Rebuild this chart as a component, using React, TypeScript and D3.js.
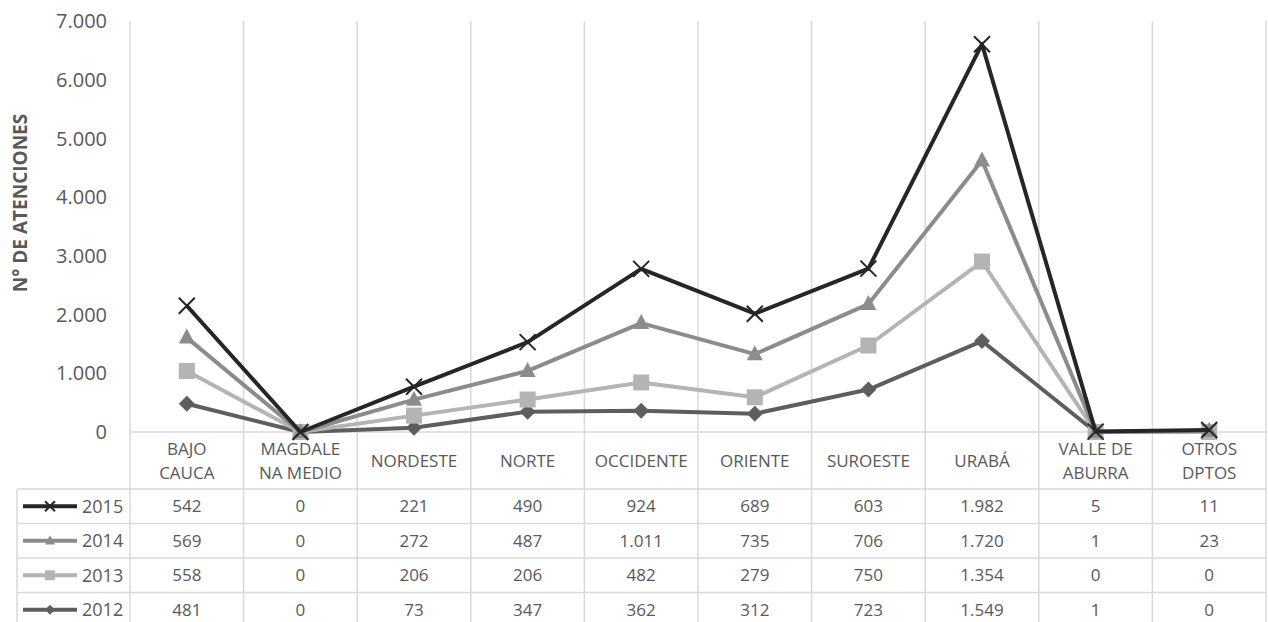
import React from "react";
import * as d3 from "d3";

const categories = [
  "BAJO CAUCA", "MAGDALENA MEDIO", "NORDESTE", "NORTE", "OCCIDENTE",
  "ORIENTE", "SUROESTE", "URABÁ", "VALLE DE ABURRA", "OTROS DPTOS",
];
// how the header cells wrap, as in the source
const categoryLines = [
  ["BAJO", "CAUCA"], ["MAGDALE", "NA MEDIO"], ["NORDESTE"], ["NORTE"], ["OCCIDENTE"],
  ["ORIENTE"], ["SUROESTE"], ["URABÁ"], ["VALLE DE", "ABURRA"], ["OTROS", "DPTOS"],
];
const years = ["2015", "2014", "2013", "2012"];
const v2015 = [542, 0, 221, 490, 924, 689, 603, 1982, 5, 11];
const v2014 = [569, 0, 272, 487, 1011, 735, 706, 1720, 1, 23];
const v2013 = [558, 0, 206, 206, 482, 279, 750, 1354, 0, 0];
const v2012 = [481, 0, 73, 347, 362, 312, 723, 1549, 1, 0];
const yTicks = [0, 1000, 2000, 3000, 4000, 5000, 6000, 7000];

const seriesValues: Record<string, number[]> = { "2015": v2015, "2014": v2014, "2013": v2013, "2012": v2012 };
const colors: Record<string, string> = { "2015": "#262626", "2014": "#8c8c8c", "2013": "#b4b4b4", "2012": "#5e5e5e" };
const markers: Record<string, string> = { "2015": "x", "2014": "triangle", "2013": "square", "2012": "diamond" };

const W = 1268, H = 622;
const left = 130, right = 1266, top = 21, zeroY = 432;
const headerBottom = 489, rowH = 34.5, tableLeft = 17;
const FONT = "'Open Sans', 'DejaVu Sans', sans-serif";
const TEXT = "#595959";
const GRID = "#d9d9d9";

const loc = d3.formatLocale({ decimal: ",", thousands: ".", grouping: [3], currency: ["$", ""] });
const fmt = loc.format(",d");

function Marker({ kind, x, y, color, k = 1 }: { kind: string; x: number; y: number; color: string; k?: number }) {
  if (kind === "x") {
    const s = 8 * k;
    return (
      <path d={`M${x - s},${y - s}L${x + s},${y + s}M${x - s},${y + s}L${x + s},${y - s}`}
        stroke={color} strokeWidth={2} fill="none" />
    );
  }
  if (kind === "triangle") {
    return <path d={`M${x},${y - 9 * k}L${x + 8 * k},${y + 6 * k}L${x - 8 * k},${y + 6 * k}Z`} fill={color} />;
  }
  if (kind === "square") {
    return <rect x={x - 8 * k} y={y - 8 * k} width={16 * k} height={16 * k} fill={color} />;
  }
  return <path d={`M${x},${y - 8 * k}L${x + 8 * k},${y}L${x},${y + 8 * k}L${x - 8 * k},${y}Z`} fill={color} />;
}

export default function App() {
  const x = d3.scaleBand<string>().domain(categories).range([left, right]);
  const y = d3.scaleLinear().domain([0, 7000]).range([zeroY, top]);

  const rows = categories.map((c, i) => {
    const r: Record<string, any> = { cat: c };
    years.forEach((yr) => (r[yr] = seriesValues[yr][i]));
    return r;
  });
  const stacked = d3.stack<any>().keys(["2012", "2013", "2014", "2015"])(rows);
  const line = d3.line<[number, number]>()
    .x((_, i) => (x(categories[i]) as number) + x.bandwidth() / 2)
    .y((d) => y(d[1]));

  const bottomY = headerBottom + rowH * years.length;

  return (
    <svg width={W} height={H} style={{ position: "absolute", left: 0, top: 0, background: "#fff" }}>
      {/* vertical gridlines, running down through the table */}
      {d3.range(categories.length + 1).map((i) => {
        const gx = left + i * x.bandwidth();
        return <line key={i} x1={gx} x2={gx} y1={top} y2={bottomY} stroke={GRID} strokeWidth={1.5} />;
      })}
      {/* table horizontal lines */}
      <line x1={left} x2={right} y1={zeroY} y2={zeroY} stroke={GRID} strokeWidth={1.5} />
      {d3.range(years.length + 1).map((i) => (
        <line key={i} x1={tableLeft} x2={right} y1={headerBottom + i * rowH} y2={headerBottom + i * rowH}
          stroke={GRID} strokeWidth={1.5} />
      ))}
      <line x1={tableLeft} x2={tableLeft} y1={headerBottom} y2={bottomY} stroke={GRID} strokeWidth={1.5} />

      {/* y axis labels */}
      {yTicks.map((t) => (
        <text key={t} x={107} y={y(t)} dy="0.36em" textAnchor="end" fontFamily={FONT} fontSize={20} fill={TEXT}>
          {fmt(t)}
        </text>
      ))}
      <text transform={`translate(27,${203}) rotate(-90)`} textAnchor="middle" fontFamily={FONT}
        fontSize={19} fontWeight="bold" fill={TEXT}>
        N° DE ATENCIONES
      </text>

      {/* lines */}
      {stacked.map((s) => {
        const key = s.key;
        const pts = s.map((d) => [d[0], d[1]] as [number, number]);
        return (
          <g key={key}>
            <path d={line(pts) as string} fill="none" stroke={colors[key]} strokeWidth={4} strokeLinejoin="round" />
            {pts.map((p, i) => (
              <Marker key={i} kind={markers[key]} x={(x(categories[i]) as number) + x.bandwidth() / 2}
                y={y(p[1])} color={colors[key]} />
            ))}
          </g>
        );
      })}

      {/* table header */}
      {categories.map((c, i) => {
        const lines = categoryLines[i];
        const cx = (x(c) as number) + x.bandwidth() / 2;
        const cy = (zeroY + headerBottom) / 2;
        return (
          <text key={c} x={cx} textAnchor="middle" fontFamily={FONT} fontSize={17} fill={TEXT}>
            {lines.map((l, j) => (
              <tspan key={j} x={cx} y={cy + (j - (lines.length - 1) / 2) * 24} dy="0.36em">{l}</tspan>
            ))}
          </text>
        );
      })}

      {/* table rows */}
      {years.map((yr, r) => {
        const cy = headerBottom + r * rowH + rowH / 2;
        return (
          <g key={yr}>
            <line x1={23} x2={77} y1={cy} y2={cy} stroke={colors[yr]} strokeWidth={4} />
            <Marker kind={markers[yr]} x={50} y={cy} color={colors[yr]} k={0.62} />
            <text x={82} y={cy} dy="0.36em" fontFamily={FONT} fontSize={18} fill={TEXT}>{yr}</text>
            {categories.map((c, i) => (
              <text key={c} x={(x(c) as number) + x.bandwidth() / 2} y={cy} dy="0.36em" textAnchor="middle"
                fontFamily={FONT} fontSize={17} fill={TEXT}>
                {fmt(seriesValues[yr][i])}
              </text>
            ))}
          </g>
        );
      })}
    </svg>
  );
}
